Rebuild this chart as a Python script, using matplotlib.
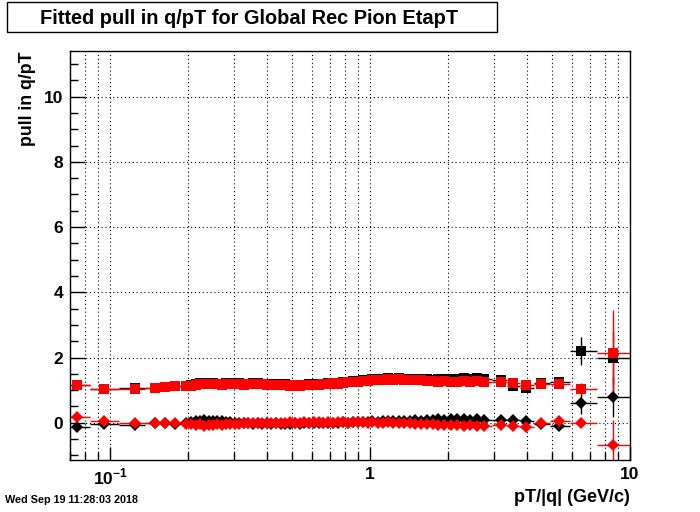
import numpy as np
import matplotlib
matplotlib.use("Agg")
import matplotlib.pyplot as plt
from matplotlib.patches import Rectangle
from matplotlib.ticker import LogLocator, MultipleLocator, FuncFormatter, NullFormatter

plt.rcParams["font.family"] = ["Liberation Sans", "DejaVu Sans"]
plt.rcParams["font.weight"] = "bold"
plt.rcParams["mathtext.fontset"] = "custom"
plt.rcParams["mathtext.rm"] = "Liberation Sans:bold"
plt.rcParams["mathtext.bf"] = "Liberation Sans:bold"

TITLE = "Fitted pull in q/pT for Global Rec Pion EtapT"
XLABEL = "pT/|q| (GeV/c)"
YLABEL = "pull in q/pT"
STAMP = "Wed Sep 19 11:28:03 2018"

# bin centres (GeV/c): sparse low part, dense middle, sparse high tail
pt_low = [0.0742, 0.0942, 0.124, 0.149, 0.163, 0.178, 0.195]
pt_mid = [0.205, 0.213, 0.221, 0.230, 0.239, 0.248, 0.258, 0.268, 0.279, 0.290,
          0.302, 0.314, 0.327, 0.340, 0.354, 0.369, 0.384, 0.400, 0.417, 0.435,
          0.453, 0.472, 0.492, 0.513, 0.535, 0.558, 0.582, 0.607, 0.633, 0.661,
          0.690, 0.720, 0.752, 0.785, 0.820, 0.857, 0.895, 0.935, 0.977, 1.02,
          1.07, 1.12, 1.17, 1.23, 1.29, 1.35, 1.42, 1.49, 1.57, 1.65,
          1.74, 1.83, 1.93, 2.04, 2.16, 2.29, 2.43, 2.58, 2.75]
pt_high = [3.18, 3.55, 3.99, 4.56, 5.35, 6.5, 8.57]
pt_first_edge = 0.06
pt_last_edge = 11.0

# width (squares) - black and red
sig_black_low = [1.15, 1.05, 1.07, 1.07, 1.11, 1.12, 1.14]
sig_black_mid = [1.16, 1.19, 1.22, 1.23, 1.22, 1.21, 1.20, 1.20, 1.21, 1.21,
                 1.20, 1.21, 1.19, 1.20, 1.21, 1.22, 1.20, 1.20, 1.19, 1.19,
                 1.18, 1.18, 1.17, 1.17, 1.16, 1.17, 1.19, 1.20, 1.19, 1.20,
                 1.22, 1.23, 1.23, 1.25, 1.26, 1.27, 1.29, 1.30, 1.32, 1.33,
                 1.35, 1.34, 1.36, 1.35, 1.36, 1.34, 1.35, 1.34, 1.35, 1.33,
                 1.32, 1.33, 1.35, 1.34, 1.35, 1.36, 1.35, 1.36, 1.34]
sig_black_high = [1.32, 1.13, 1.06, 1.21, 1.26, 2.20, 2.00]
sig_black_err = [0.03, 0.04, 0.05, 0.05, 0.07, 0.44, 0.80]

sig_red_low = [1.16, 1.04, 1.05, 1.06, 1.11, 1.12, 1.13]
sig_red_mid = [1.14, 1.16, 1.19, 1.20, 1.19, 1.18, 1.18, 1.17, 1.18, 1.19,
               1.18, 1.18, 1.17, 1.18, 1.18, 1.19, 1.18, 1.17, 1.17, 1.16,
               1.16, 1.15, 1.14, 1.15, 1.13, 1.15, 1.16, 1.17, 1.16, 1.18,
               1.19, 1.21, 1.20, 1.22, 1.24, 1.25, 1.26, 1.28, 1.29, 1.31,
               1.31, 1.32, 1.33, 1.32, 1.33, 1.31, 1.32, 1.30, 1.31, 1.29,
               1.27, 1.26, 1.27, 1.25, 1.26, 1.27, 1.26, 1.27, 1.26]
sig_red_high = [1.26, 1.21, 1.15, 1.19, 1.19, 1.03, 2.15]
sig_red_err = [0.03, 0.04, 0.05, 0.05, 0.06, 0.18, 1.30]

# mean (diamonds) - black and red
mean_black_low = [-0.13, -0.04, -0.06, -0.02, -0.02, -0.03, -0.02]
mean_black_mid = [0.03, 0.07, 0.04, 0.08, 0.05, 0.07, 0.04, 0.05, 0.02, 0.01,
                  0.00, -0.01, -0.02, -0.02, -0.03, -0.02, -0.03, -0.02, -0.03, -0.02,
                  -0.03, -0.04, -0.03, -0.02, -0.03, -0.02, -0.02, -0.01, -0.02, -0.01,
                  0.00, -0.01, 0.00, 0.01, 0.00, 0.02, 0.01, 0.03, 0.02, 0.04,
                  0.03, 0.05, 0.04, 0.06, 0.05, 0.07, 0.06, 0.08, 0.07, 0.09,
                  0.10, 0.11, 0.10, 0.12, 0.11, 0.12, 0.10, 0.11, 0.10]
mean_black_high = [0.09, 0.08, 0.04, -0.03, -0.11, 0.60, 0.79]
mean_black_err = [0.02, 0.03, 0.03, 0.04, 0.05, 0.33, 0.60]

mean_red_low = [0.17, 0.04, 0.00, 0.00, -0.01, -0.02, -0.03]
mean_red_mid = [-0.04, -0.08, -0.05, -0.09, -0.06, -0.08, -0.05, -0.06, -0.04, -0.04,
                -0.03, -0.03, -0.02, -0.02, -0.01, -0.02, -0.01, -0.01, 0.00, 0.00,
                -0.01, 0.00, 0.01, 0.00, 0.00, 0.01, 0.00, 0.01, 0.01, 0.00,
                0.01, 0.00, 0.02, 0.01, 0.00, 0.01, 0.02, 0.01, 0.00, 0.01,
                0.00, -0.01, 0.01, -0.02, 0.00, -0.01, -0.02, -0.03, -0.04, -0.05,
                -0.04, -0.06, -0.07, -0.06, -0.08, -0.09, -0.08, -0.10, -0.11]
mean_red_high = [-0.08, -0.11, -0.14, -0.01, 0.04, -0.01, -0.69]
mean_red_err = [0.02, 0.03, 0.03, 0.04, 0.05, 0.10, 0.79]


def bins():
    pt = np.array(pt_low + pt_mid + pt_high)
    mids = np.sqrt(pt[:-1] * pt[1:])
    lo = np.concatenate([[pt_first_edge], mids])
    hi = np.concatenate([mids, [pt_last_edge]])
    return pt, np.vstack([pt - lo, hi - pt])


def series(low, mid, high, err):
    y = np.array(low + mid + high)
    yerr = np.concatenate([np.zeros(len(low) + len(mid)), err])
    return y, yerr


def draw(ax, pt, xerr, y, yerr, color, marker, ms):
    ax.errorbar(pt, y, xerr=xerr, yerr=yerr, fmt=marker, color=color, ecolor=color,
                ms=ms, mew=0, elinewidth=1.0, capsize=0)


def main():
    fig = plt.figure(figsize=(7.0, 5.12), dpi=100)
    ax = fig.add_axes([0.1, 0.1016, 0.8, 0.7988])

    pt, xerr = bins()
    draw(ax, pt, xerr, *series(sig_black_low, sig_black_mid, sig_black_high, sig_black_err), "black", "s", 7.2)
    draw(ax, pt, xerr, *series(mean_black_low, mean_black_mid, mean_black_high, mean_black_err), "black", "D", 6.3)
    draw(ax, pt, xerr, *series(sig_red_low, sig_red_mid, sig_red_high, sig_red_err), "red", "s", 7.2)
    draw(ax, pt, xerr, *series(mean_red_low, mean_red_mid, mean_red_high, mean_red_err), "red", "D", 6.3)

    ax.set_xscale("log")
    ax.set_xlim(0.07, 10)
    ax.set_ylim(-1.14, 11.4)

    ax.xaxis.set_major_locator(LogLocator(base=10, subs=(1.0,)))
    ax.xaxis.set_minor_locator(LogLocator(base=10, subs=np.arange(2, 10) * 1.0))
    ax.xaxis.set_minor_formatter(NullFormatter())
    labels = {0.1: r"$10^{-1}$", 1.0: "1", 10.0: "10"}
    ax.xaxis.set_major_formatter(FuncFormatter(lambda v, p: labels.get(round(v, 3), "")))
    ax.yaxis.set_major_locator(MultipleLocator(2))
    ax.yaxis.set_minor_locator(MultipleLocator(0.5))

    ax.tick_params(which="both", direction="in", top=False, right=False, width=1.0, labelsize=12.5)
    ax.tick_params(axis="x", which="major", length=9.5, pad=5)
    ax.tick_params(axis="x", which="minor", length=5.8)
    ax.tick_params(axis="y", which="major", length=11, pad=5)
    ax.tick_params(axis="y", which="minor", length=6)
    for lab in ax.get_xticklabels() + ax.get_yticklabels():
        lab.set_fontweight("bold")

    grid = dict(color="black", linestyle=(0, (1, 2.5)), linewidth=0.8)
    ax.grid(True, axis="x", which="both", **grid)
    ax.grid(True, axis="y", which="major", **grid)
    ax.set_axisbelow(True)
    for s in ax.spines.values():
        s.set_linewidth(1.0)

    fig.patches.append(Rectangle((7 / 700, 1 - 32 / 512), 490 / 700, 30 / 512,
                                 transform=fig.transFigure, fill=False, ec="black", lw=1.0))
    fig.text(249 / 700, 1 - 18 / 512, TITLE, ha="center", va="center", fontsize=14.4, fontweight="bold")
    fig.text(28 / 700, 1 - 51 / 512, YLABEL, ha="center", va="top", rotation=90, fontsize=12.8, fontweight="bold")
    fig.text(630 / 700, 1 - 498 / 512, XLABEL, ha="right", va="center", fontsize=13, fontweight="bold")
    fig.text(5 / 700, 1 - 500 / 512, STAMP, ha="left", va="center", fontsize=7.8, fontweight="bold",
             family=["Liberation Sans Narrow", "Liberation Sans"])

    fig.savefig("out.png", dpi=100)


if __name__ == "__main__":
    main()
